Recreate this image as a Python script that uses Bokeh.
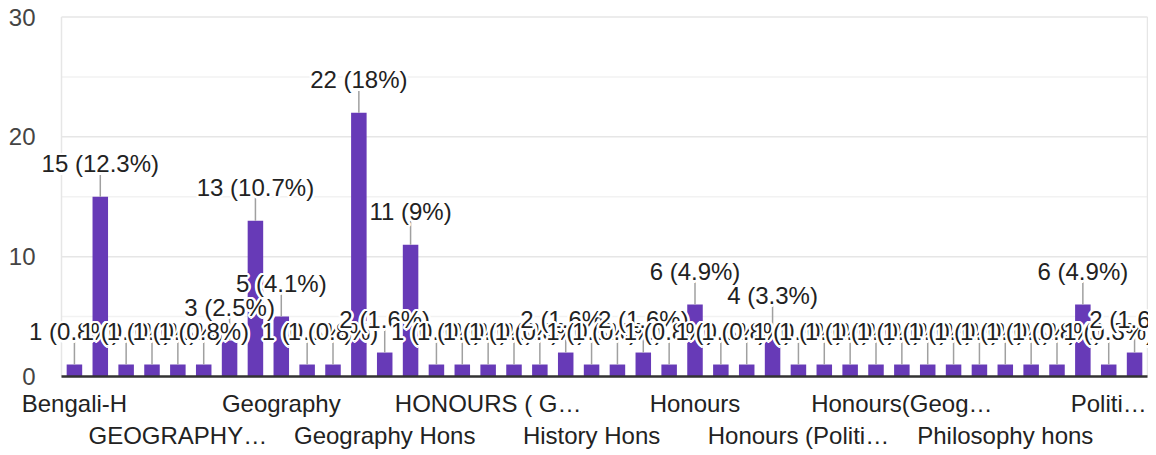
import math
from bokeh.plotting import figure
from bokeh.models import ColumnDataSource, Label, Range1d
from bokeh.core.properties import value
from bokeh.embed import file_html
from bokeh.resources import INLINE

# ---- data ----
counts = [1, 15, 1, 1, 1, 1, 3, 13, 5, 1, 1, 22, 2, 11, 1, 1, 1, 1, 1, 2,
          1, 1, 2, 1, 6, 1, 1, 4, 1, 1, 1, 1, 1, 1, 1, 1, 1, 1, 1, 6, 1, 2]
tick_labels = ["Bengali-H", "GEOGRAPHY\u2026", "Geography", "Geography Hons",
               "HONOURS ( G\u2026", "History Hons", "Honours",
               "Honours (Politi\u2026", "Honours(Geog\u2026", "Philosophy hons",
               "Politi\u2026"]
y_ticks = [0, 10, 20, 30]
y_minor = [5, 15, 25]

FONT = "Liberation Sans"
BAR = "#673ab7"

total = sum(counts)
n = len(counts)
xs = list(range(1, n + 1))


def pct(v):
    s = f"{v / total * 100:.1f}"
    if s.endswith(".0"):
        s = s[:-2]
    return s


label_texts = [f"{v} ({pct(v)}%)" for v in counts]

# layout: the plot area spans canvas x 61..1147 and y 16.5..376; the frame
# covers the whole canvas so that texts may overflow the plot area as in the
# reference (Google-style annotations).
W, H = 1148, 455
LEFT, RIGHT = 61, 1147
TOP, BOTTOM = 16.5, 376
ux = (RIGHT - LEFT) / n
uy = (BOTTOM - TOP) / y_ticks[-1]
x_lo, x_hi = 0.5, n + 0.5
x_range = Range1d(x_lo - LEFT / ux, x_hi + (W - RIGHT) / ux)
y_range = Range1d(-(H - BOTTOM) / uy, y_ticks[-1] + TOP / uy)

p = figure(width=W, height=H, output_backend="svg", toolbar_location=None,
           x_range=x_range, y_range=y_range,
           min_border=0, x_axis_location=None, y_axis_location=None)
p.background_fill_color = "white"
p.border_fill_color = "white"
p.outline_line_color = None
p.xgrid.grid_line_color = None
p.ygrid.grid_line_color = None

# grid lines and plot-area border
p.segment(x0=[x_lo] * len(y_minor), x1=[x_hi] * len(y_minor), y0=y_minor,
          y1=y_minor, line_color="#f2f2f2", line_width=1.5)
p.segment(x0=[x_lo] * len(y_ticks), x1=[x_hi] * len(y_ticks), y0=y_ticks,
          y1=y_ticks, line_color="#e6e6e6", line_width=1.5)
p.segment(x0=[x_lo, x_hi], x1=[x_lo, x_hi], y0=[0, 0],
          y1=[y_ticks[-1], y_ticks[-1]], line_color="#e6e6e6", line_width=1.5)

# y tick labels
p.text(x=[x_lo] * len(y_ticks), y=y_ticks, text=[str(t) for t in y_ticks],
       x_offset=-26, text_align="right", text_baseline="middle",
       text_font=value(FONT), text_font_size="24px", text_color="#444444")

# bars with annotation stems
src = ColumnDataSource(dict(x=xs, top=counts, stem=[c + 2.0 for c in counts]))
p.vbar(x="x", top="top", bottom=0, width=0.6, source=src,
       fill_color=BAR, line_color=None)
p.segment(x0="x", y0="top", x1="x", y1="stem", source=src,
          line_color="#a0a0a0", line_width=1.5)

# baseline
p.segment(x0=[x_lo], x1=[x_hi], y0=[0], y1=[0], line_color="#333333",
          line_width=2.5)

# category labels, every 4th category, alternating on two rows
pos = [1 + 4 * k for k in range(len(tick_labels))]
row_off = [27, 59]
p.text(x=pos, y=[0] * len(pos), text=tick_labels,
       y_offset=[row_off[j % 2] for j in range(len(pos))],
       text_align="center", text_baseline="alphabetic",
       text_font=value(FONT), text_font_size="24px", text_color="#222222")

# annotations with white halo, drawn in order (later ones on top)
offs = []
for k in range(12):
    a = 2 * math.pi * k / 12
    offs.append((2.5 * math.cos(a), 2.5 * math.sin(a)))
for k in range(4):
    a = 2 * math.pi * k / 4 + math.pi / 4
    offs.append((1.2 * math.cos(a), 1.2 * math.sin(a)))

LY = 33
for xv, v, t in zip(xs, counts, label_texts):
    for dx, dy in offs:
        p.add_layout(Label(x=xv, y=v, text=t, x_offset=dx, y_offset=LY + dy,
                           text_align="center", text_baseline="alphabetic",
                           text_color="white", text_font=FONT,
                           text_font_size="24px"))
    p.add_layout(Label(x=xv, y=v, text=t, y_offset=LY,
                       text_align="center", text_baseline="alphabetic",
                       text_color="#222222", text_font=FONT,
                       text_font_size="24px"))

open("out.html", "w").write(file_html(p, INLINE))
